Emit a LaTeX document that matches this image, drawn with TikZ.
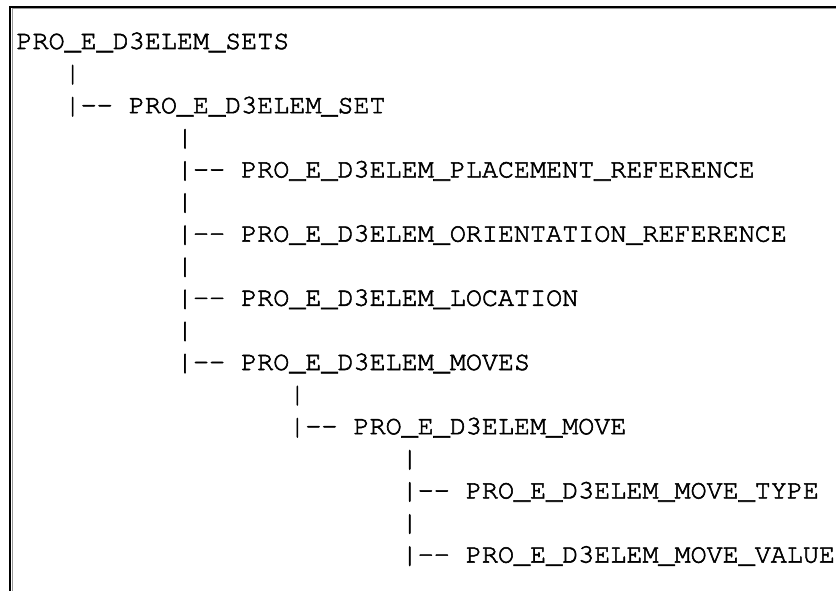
\documentclass[tikz,border=0pt]{standalone}
\usepackage[T1]{fontenc}
\usepackage{courier}
\newcommand\heavytext{\special{pdf:literal direct 2 Tr 0.55 w}}
\begin{document}
\begin{tikzpicture}[x=1pt,y=-1pt,
  ln/.style={anchor=base west,inner sep=0pt,outer sep=0pt,text=black,
    font=\ttfamily\fontsize{26.75}{26.75}\selectfont\heavytext}]
\useasboundingbox (0,0) rectangle (836,591);
\fill[white] (0,0) rectangle (836,591);
% frame
\draw[black!40, line width=1pt] (12.0,591) -- (12.0,8.7) -- (836,8.7);
\draw[black, line width=1.6pt] (10.2,591) -- (10.2,6.9) -- (836,6.9);
% tree text (x = 16.5 + 16.05*column, y = 49 + 32.1*line)
\node[ln] (n0) at ({16.5+16.05*0},{49+32.1*0}) {PRO\_E\_D3ELEM\_SETS};
\node[ln] (v1) at ({16.5+16.05*3},{49+32.1*1}) {|};
\node[ln] (b2) at ({16.5+16.05*3},{49+32.1*2}) {|-\kern0pt-};
\node[ln] (n2) at ({16.5+16.05*7},{49+32.1*2}) {PRO\_E\_D3ELEM\_SET};
\node[ln] (v3) at ({16.5+16.05*10},{49+32.1*3}) {|};
\node[ln] (b4) at ({16.5+16.05*10},{49+32.1*4}) {|-\kern0pt-};
\node[ln] (n4) at ({16.5+16.05*14},{49+32.1*4}) {PRO\_E\_D3ELEM\_PLACEMENT\_REFERENCE};
\node[ln] (v5) at ({16.5+16.05*10},{49+32.1*5}) {|};
\node[ln] (b6) at ({16.5+16.05*10},{49+32.1*6}) {|-\kern0pt-};
\node[ln] (n6) at ({16.5+16.05*14},{49+32.1*6}) {PRO\_E\_D3ELEM\_ORIENTATION\_REFERENCE};
\node[ln] (v7) at ({16.5+16.05*10},{49+32.1*7}) {|};
\node[ln] (b8) at ({16.5+16.05*10},{49+32.1*8}) {|-\kern0pt-};
\node[ln] (n8) at ({16.5+16.05*14},{49+32.1*8}) {PRO\_E\_D3ELEM\_LOCATION};
\node[ln] (v9) at ({16.5+16.05*10},{49+32.1*9}) {|};
\node[ln] (b10) at ({16.5+16.05*10},{49+32.1*10}) {|-\kern0pt-};
\node[ln] (n10) at ({16.5+16.05*14},{49+32.1*10}) {PRO\_E\_D3ELEM\_MOVES};
\node[ln] (v11) at ({16.5+16.05*17},{49+32.1*11}) {|};
\node[ln] (b12) at ({16.5+16.05*17},{49+32.1*12}) {|-\kern0pt-};
\node[ln] (n12) at ({16.5+16.05*21},{49+32.1*12}) {PRO\_E\_D3ELEM\_MOVE};
\node[ln] (v13) at ({16.5+16.05*24},{49+32.1*13}) {|};
\node[ln] (b14) at ({16.5+16.05*24},{49+32.1*14}) {|-\kern0pt-};
\node[ln] (n14) at ({16.5+16.05*28},{49+32.1*14}) {PRO\_E\_D3ELEM\_MOVE\_TYPE};
\node[ln] (v15) at ({16.5+16.05*24},{49+32.1*15}) {|};
\node[ln] (b16) at ({16.5+16.05*24},{49+32.1*16}) {|-\kern0pt-};
\node[ln] (n16) at ({16.5+16.05*28},{49+32.1*16}) {PRO\_E\_D3ELEM\_MOVE\_VALUE};
\end{tikzpicture}
\end{document}
